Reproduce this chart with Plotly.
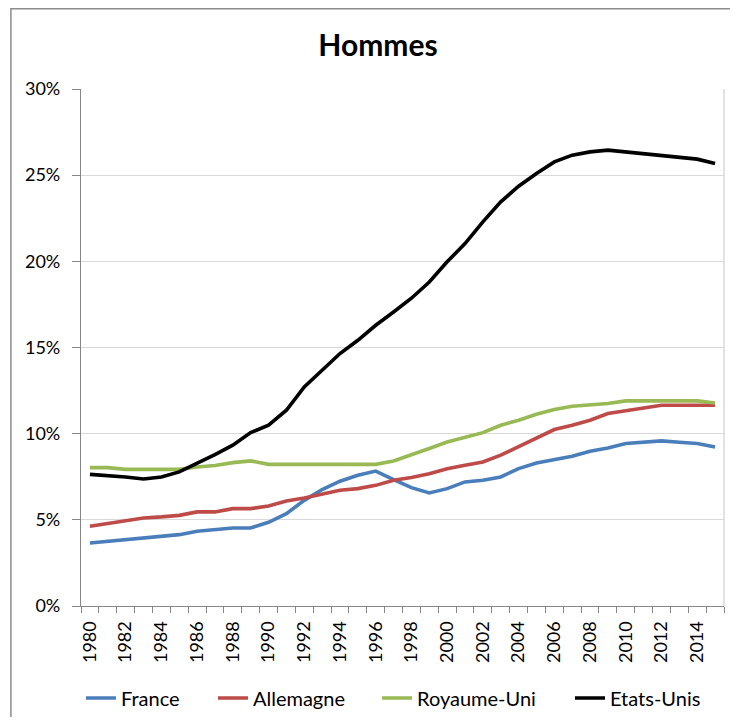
import plotly.graph_objects as go

# Data (share in %)
years = list(range(1980, 2016))

france = [3.66, 3.75, 3.85, 3.97, 4.06, 4.14, 4.34, 4.43, 4.53, 4.53,
          4.86, 5.36, 6.13, 6.76, 7.24, 7.59, 7.83, 7.34, 6.87, 6.56,
          6.81, 7.20, 7.30, 7.49, 7.97, 8.30, 8.51, 8.69, 8.98, 9.17,
          9.43, 9.50, 9.58, 9.50, 9.43, 9.23]

allemagne = [4.63, 4.78, 4.97, 5.11, 5.17, 5.26, 5.46, 5.46, 5.65, 5.65,
             5.80, 6.09, 6.27, 6.52, 6.72, 6.81, 7.00, 7.30, 7.46, 7.68,
             7.97, 8.17, 8.36, 8.75, 9.23, 9.72, 10.24, 10.49, 10.78, 11.17,
             11.32, 11.46, 11.65, 11.65, 11.65, 11.65]

royaume_uni = [8.03, 8.03, 7.93, 7.93, 7.93, 7.93, 8.07, 8.15, 8.32, 8.42,
               8.22, 8.22, 8.22, 8.22, 8.22, 8.22, 8.22, 8.42, 8.76, 9.14,
               9.52, 9.77, 10.06, 10.49, 10.78, 11.13, 11.40, 11.59, 11.65, 11.75,
               11.90, 11.90, 11.90, 11.90, 11.90, 11.78]

etats_unis = [7.64, 7.57, 7.49, 7.37, 7.49, 7.78, 8.26, 8.79, 9.33, 10.06,
              10.49, 11.36, 12.71, 13.68, 14.65, 15.42, 16.29, 17.06, 17.86, 18.80,
              19.97, 21.03, 22.29, 23.45, 24.36, 25.10, 25.77, 26.16, 26.35, 26.45,
              26.35, 26.20, 26.10, 26.01, 25.93, 25.68]

series = [
    ("France", france, "#4A7EBB"),
    ("Allemagne", allemagne, "#BE4B48"),
    ("Royaume-Uni", royaume_uni, "#98B954"),
    ("Etats-Unis", etats_unis, "#000000"),
]

year_labels = list(range(1980, 2015, 2))
y_ticks = [0, 5, 10, 15, 20, 25, 30]
y_labels = [f"{v}%" for v in y_ticks]

# one legend per series so the entries can be spread like the original
legend_ids = ["legend", "legend2", "legend3", "legend4"]
legend_x = [0.1011, 0.2839, 0.5111, 0.7784]

fig = go.Figure()

for (name, vals, color), lid in zip(series, legend_ids):
    fig.add_trace(go.Scatter(
        x=years, y=vals, name=name, mode="lines",
        line=dict(color=color, width=3.6), legend=lid,
    ))

# outer chart frame
fig.add_shape(type="rect", xref="paper", yref="paper",
              x0=-0.109, x1=1.2, y0=-0.4, y1=1.155,
              line=dict(color="#8c8c8c", width=1.5), layer="below")
# plot area border (right side)
fig.add_shape(type="line", xref="paper", yref="paper",
              x0=1, x1=1, y0=0, y1=1,
              line=dict(color="#d9d9d9", width=1.5))

legend_style = dict(orientation="h", xanchor="left", xref="container",
                    y=0.0268, yref="container", yanchor="middle",
                    font=dict(size=20), bgcolor="rgba(0,0,0,0)")

fig.update_layout(
    width=722, height=709,
    margin=dict(l=73, r=6, t=81, b=111),
    paper_bgcolor="white", plot_bgcolor="white",
    font=dict(family="Lato", size=19, color="#000000"),
    title=dict(text="<b>Hommes</b>", x=0.5125, xref="container",
               y=1 - 37 / 709, yref="container", yanchor="middle",
               xanchor="center", font=dict(size=30, family="Lato")),
    showlegend=True,
    legend=dict(x=legend_x[0], **legend_style),
    legend2=dict(x=legend_x[1], **legend_style),
    legend3=dict(x=legend_x[2], **legend_style),
    legend4=dict(x=legend_x[3], **legend_style),
)

fig.update_xaxes(
    range=[1979.5, 2015.5], automargin=False,
    tickmode="array", tickvals=year_labels, ticktext=[str(y) for y in year_labels],
    tickangle=-90, ticks="", ticklabelstandoff=7,
    tickfont=dict(size=18),
    showgrid=False, zeroline=False,
    showline=True, linecolor="#868686", linewidth=1.2,
    minor=dict(tickmode="linear", tick0=1979.5, dtick=1, ticks="outside",
               ticklen=6, tickcolor="#868686", tickwidth=1.2, showgrid=False),
)

fig.update_yaxes(
    range=[0, 30], automargin=False,
    tickmode="array", tickvals=y_ticks, ticktext=y_labels,
    ticks="outside", ticklen=8, tickcolor="#868686", tickwidth=1.2,
    ticklabelstandoff=8, tickfont=dict(size=18),
    showgrid=True, gridcolor="#d9d9d9", gridwidth=1.2,
    zeroline=False, showline=True, linecolor="#868686", linewidth=1.2,
)

fig.write_html("out.html")
